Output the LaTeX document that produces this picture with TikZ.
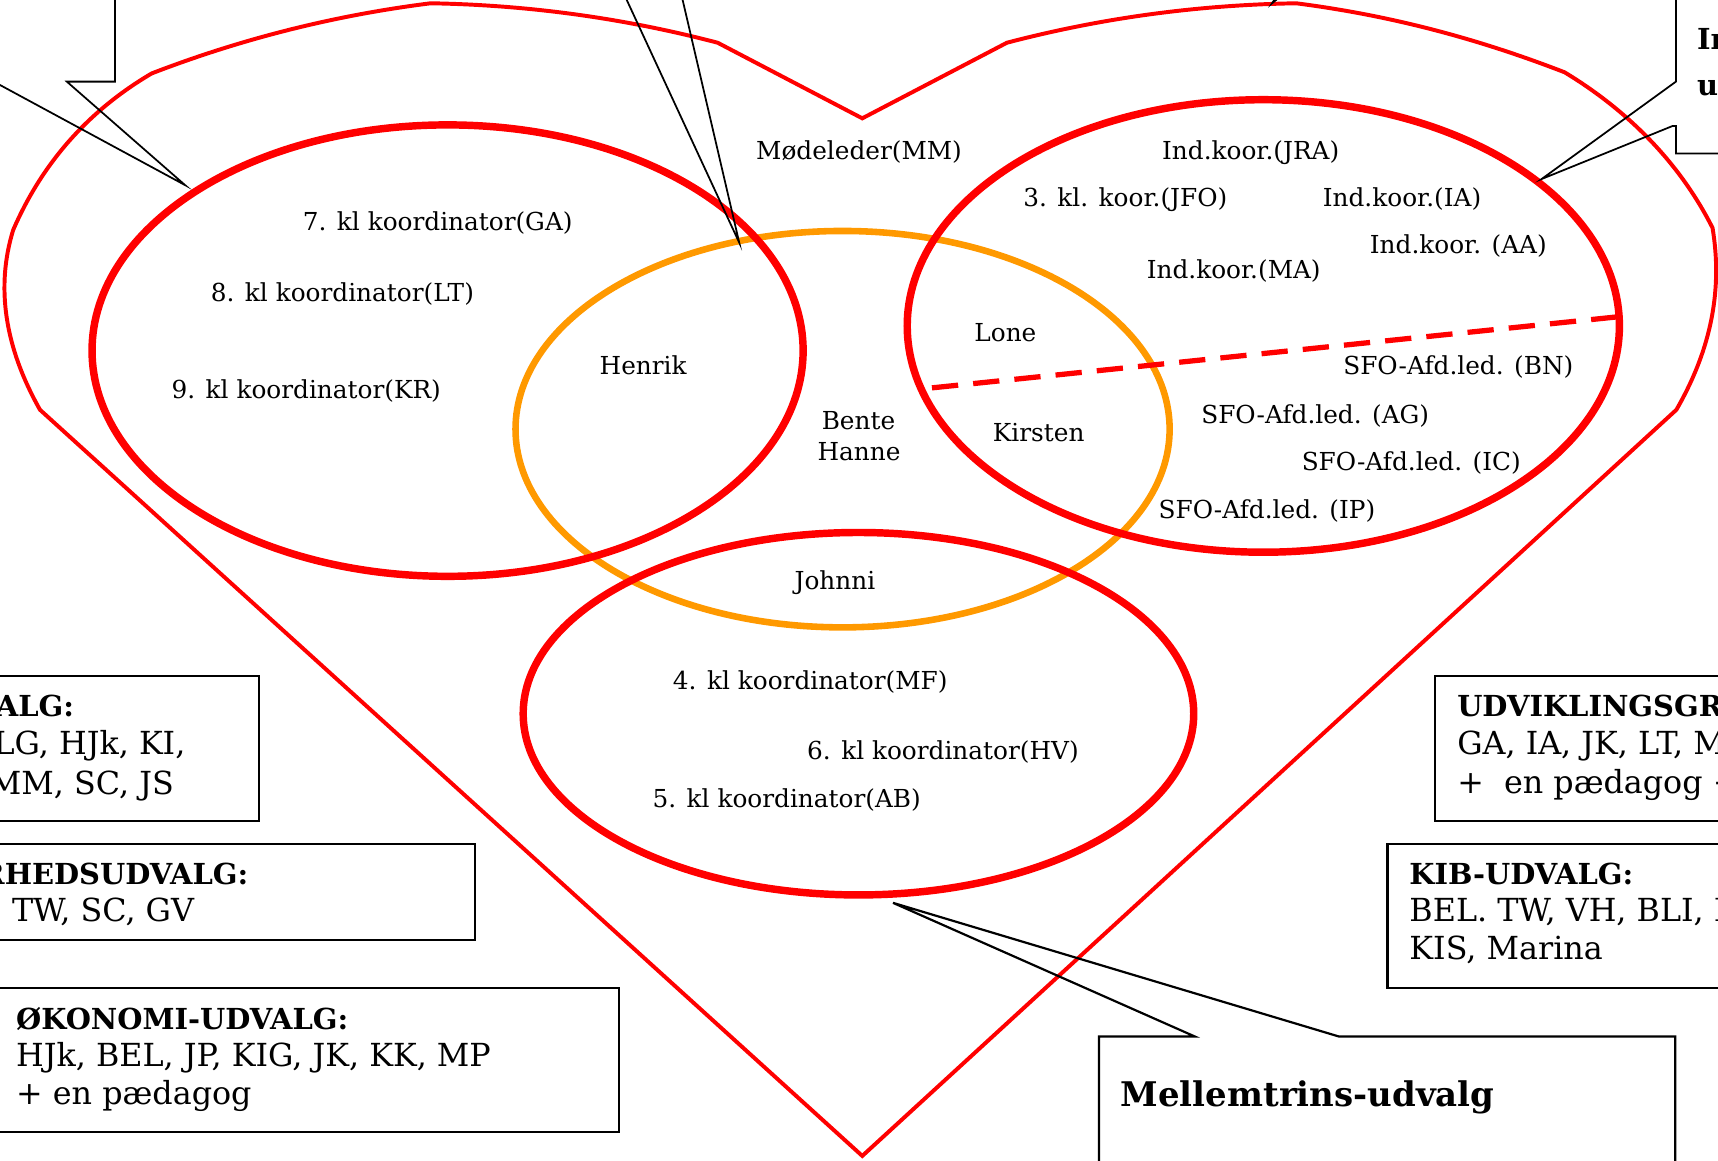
\documentclass[tikz,border=0pt]{standalone}
\usepackage{fontspec}
\setmainfont{DejaVu Serif}
\definecolor{hred}{RGB}{255,0,0}
\definecolor{horange}{RGB}{255,153,0}
\begin{document}
\begin{tikzpicture}[x=0.5pt,y=-0.5pt,
  heart/.style={draw=hred, line width=1.8pt, line join=miter},
  ring/.style={draw=hred, line width=3.4pt},
  oring/.style={draw=horange, line width=3pt},
  split/.style={draw=hred, line width=2.4pt, dash pattern=on 12pt off 6.9pt},
  callout/.style={draw=black, line width=0.8pt, line join=miter},
  frame/.style={draw=black, line width=1pt},
  lbl/.style={font=\fontsize{11.3}{13}\selectfont, inner sep=0pt, anchor=base},
  boxtxt/.style={font=\fontsize{14.5}{17}\selectfont, inner sep=0pt},
  boxhead/.style={font=\fontsize{13.2}{16}\selectfont\bfseries, inner sep=0pt},
  bighead/.style={font=\fontsize{15.5}{18}\selectfont\bfseries, inner sep=0pt},
]
\useasboundingbox (0,0) rectangle (1568,1059);
\fill[white] (0,0) rectangle (1568,1059);

% heart outline
\draw[heart] (787,1055) -- (36.5,374)
  .. controls (4.2,316.7) and (-4,262) .. (12,210)
  .. controls (38.6,148.5) and (80.8,100.9) .. (138.5,67)
  .. controls (220.7,35.3) and (305.5,14) .. (393,3)
  .. controls (481.8,4.5) and (569.1,16.5) .. (655,39)
  -- (787,108) -- (919,39)
  .. controls (1004.9,16.5) and (1092.2,4.5) .. (1183,3)
  .. controls (1268.5,14) and (1348,35) .. (1428,66)
  .. controls (1485.7,100.9) and (1533,148.5) .. (1563,208)
  .. controls (1572,262) and (1563,316.7) .. (1530,374)
  -- cycle;

% ellipses
\draw[oring] (769,391.7) ellipse [x radius=298.5, y radius=180.9];
\draw[ring] (408.5,320) ellipse [x radius=324.5, y radius=206];
\draw[ring] (1153,297.5) ellipse [x radius=325, y radius=206.5];
\draw[ring] (783.5,651.4) ellipse [x radius=306, y radius=165.4];

% dashed divider
\coordinate (dL) at (850.6,354);
\coordinate (dR) at (1478,289);
\draw[split] (dL) -- (dR);

% callouts
\coordinate (tl1) at (105,-10);
\coordinate (tl2) at (105,74.5);
\coordinate (tl3) at (61,74.5);
\coordinate (tlTip) at (169,169);
\coordinate (tl4) at (-5.7,74.5);
\coordinate (tl5) at (-20,74.5);
\draw[callout] (tl1) -- (tl2) -- (tl3) -- (tlTip) -- (tl4) -- (tl5);

\coordinate (tm1) at (567.4,-10);
\coordinate (tmTip) at (674.7,221.5);
\coordinate (tm2) at (620.7,-10);
\draw[callout] (tm1) -- (tmTip) -- (tm2);

\coordinate (tr1) at (1529.6,-10);
\coordinate (tr2) at (1529.6,74.5);
\coordinate (trTip) at (1407,163.4);
\coordinate (tr3) at (1526.5,115);
\coordinate (tr4) at (1529.6,115);
\coordinate (tr5) at (1529.6,140);
\coordinate (tr6) at (1590,140);
\draw[callout] (tr1) -- (tr2) -- (trTip) -- (tr3) -- (tr4) -- (tr5) -- (tr6);

\coordinate (tk1) at (1172,-6);
\coordinate (tkTip) at (1161,3);
\coordinate (tk2) at (1167,-6);
\draw[callout] (tk1) -- (tkTip) -- (tk2);

\coordinate (mc1) at (1003,1075);
\coordinate (mc2) at (1003,946);
\coordinate (mc3) at (1090.5,946);
\coordinate (mcTip) at (815,824);
\coordinate (mc4) at (1222,946);
\coordinate (mc5) at (1529,946);
\coordinate (mc6) at (1529,1075);
\draw[callout, line width=1pt] (mc1) -- (mc2) -- (mc3) -- (mcTip) -- (mc4) -- (mc5) -- (mc6);

% labels in the Venn diagram
\node[lbl] (mm) at (784,145.4) {Mødeleder(MM)};
\node[lbl] (k7) at (399.5,210.8) {7. kl koordinator(GA)};
\node[lbl] (k8) at (312.5,275.3) {8. kl koordinator(LT)};
\node[lbl] (k9) at (279.5,363.5) {9. kl koordinator(KR)};
\node[lbl] (henrik) at (587,341.4) {Henrik};
\node[lbl] (bente) at (783.5,392.4) {Bente};
\node[lbl] (hanne) at (784,420.4) {Hanne};
\node[lbl] (lone) at (917.6,311.8) {Lone};
\node[lbl] (kirsten) at (948,403) {Kirsten};
\node[lbl] (jra) at (1141.5,145.4) {Ind.koor.(JRA)};
\node[lbl] (jfo) at (1027,188.6) {3. kl. koor.(JFO)};
\node[lbl] (ia) at (1279.6,188.6) {Ind.koor.(IA)};
\node[lbl] (aa) at (1331,231.2) {Ind.koor. (AA)};
\node[lbl] (ma) at (1126,254) {Ind.koor.(MA)};
\node[lbl] (bn) at (1331,342.2) {SFO-Afd.led. (BN)};
\node[lbl] (ag) at (1200.4,386.4) {SFO-Afd.led. (AG)};
\node[lbl] (ic) at (1288,429.6) {SFO-Afd.led. (IC)};
\node[lbl] (ip) at (1156.3,473) {SFO-Afd.led. (IP)};
\node[lbl] (johnni) at (762,537.8) {Johnni};
\node[lbl] (k4) at (739.5,629.7) {4. kl koordinator(MF)};
\node[lbl] (k6) at (860.6,693) {6. kl koordinator(HV)};
\node[lbl] (k5) at (718,736.8) {5. kl koordinator(AB)};

% committee boxes
\draw[frame] (-10,617) rectangle (236.6,749);
\node[boxhead, anchor=base east] (b1a) at (68,654) {ALG:};
\node[boxtxt, anchor=base east] (b1b) at (169.6,689) {LG, HJk, KI,};
\node[boxtxt, anchor=base east] (b1c) at (159,724.7) {MM, SC, JS};

\draw[frame] (-10,770.6) rectangle (433.6,858);
\node[boxhead, anchor=base east] (b2a) at (227,807.7) {RHEDSUDVALG:};
\node[boxtxt, anchor=base west] (b2b) at (10.6,841) {TW, SC, GV};

\draw[frame] (-10,902) rectangle (565,1033);
\node[boxhead, anchor=base west] (b3a) at (14.4,939.4) {ØKONOMI-UDVALG:};
\node[boxtxt, anchor=base west] (b3b) at (14.4,973.5) {HJk, BEL, JP, KIG, JK, KK, MP};
\node[boxtxt, anchor=base west] (b3c) at (14.4,1007.6) {+ en pædagog};

\draw[frame] (1310,617) rectangle (1590,749);
\node[boxhead, anchor=base west] (b4a) at (1329.6,654) {UDVIKLINGSGR};
\node[boxtxt, anchor=base west] (b4b) at (1329.6,689) {GA, IA, JK, LT, M};
\node[boxtxt, anchor=base west] (b4c) at (1329.6,724) {+\ \ en pædagog +};

\draw[frame] (1266.3,770.6) rectangle (1590,902);
\node[boxhead, anchor=base west] (b5a) at (1286,807.7) {KIB-UDVALG:};
\node[boxtxt, anchor=base west] (b5b) at (1286,841) {BEL. TW, VH, BLI, B};
\node[boxtxt, anchor=base west] (b5c) at (1286,876) {KIS, Marina};

\node[bighead, anchor=base west] (mel) at (1022.5,1010) {Mellemtrins-udvalg};

% top-right callout text
\node[boxhead, anchor=base west] (tri) at (1548.5,45) {In};
\node[boxhead, anchor=base west] (tru) at (1548.5,87) {u};
\end{tikzpicture}
\end{document}
